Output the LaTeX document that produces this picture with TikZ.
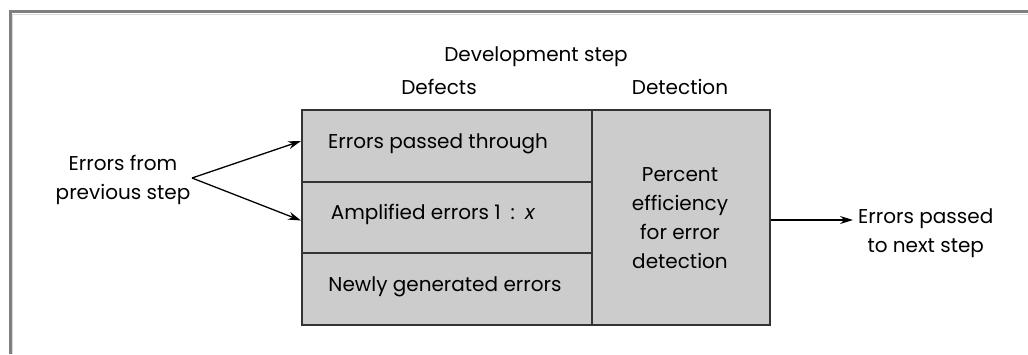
\documentclass[tikz,border=0pt]{standalone}
\usepackage{fontspec}
\setmainfont{Poppins}
\usetikzlibrary{arrows.meta}
\definecolor{cellgray}{HTML}{CCCCCC}
\definecolor{framegray}{HTML}{7F7F7F}
\definecolor{edgegray}{HTML}{333333}
\begin{document}
\begin{tikzpicture}[x=1pt,y=-1pt,
  txt/.style={font=\fontsize{20}{29}\selectfont, inner sep=0pt, align=center},
  cell/.style={draw=edgegray, line width=2pt, fill=cellgray, inner sep=0pt, anchor=north west},
  arr/.style={line width=1.3pt, -{Stealth[length=13pt,width=8pt]}}]
\useasboundingbox (0,0) rectangle (1028,354);
\fill[white] (0,0) rectangle (1028,354);
% frame
\draw[framegray, line width=3pt] (10,354) -- (10,11.5) -- (1028,11.5);
\draw[gray!30, line width=1pt] (12.5,354) -- (12.5,14) -- (1028,14);
% cells
\node[cell, minimum width=290pt, minimum height=72pt] (c1) at (301,109) {};
\node[cell, minimum width=290pt, minimum height=71pt] (c2) at (301,181) {};
\node[cell, minimum width=290pt, minimum height=72pt] (c3) at (301,252) {};
\node[cell, minimum width=178pt, minimum height=215pt] (det) at (591,109) {};
% texts
\node[txt] (t1) at (438,144) {Errors passed through};
\node[txt] (t2) at (433,214) {Amplified errors 1\enspace:\enspace\textit{x}};
\node[txt] (t3) at (445,287) {Newly generated errors};
\node[txt] (t4) at (680,218) {Percent\\efficiency\\for error\\detection};
\node[txt] (hdr) at (536,57) {Development step};
\node[txt] (def) at (439,87) {Defects};
\node[txt] (dtn) at (680,87) {Detection};
\node[txt] (in) at (123,180) {Errors from\\previous step};
\node[txt, anchor=west] (out) at (858,233) {Errors passed\\to next step};
% connectors
\coordinate (src) at (192,178);
\draw[arr] (src) -- ([yshift=5pt]c1.west);
\draw[arr] (src) -- ([yshift=-3pt]c2.west);
\draw[arr] (det.east |- 0,220) -- ([xshift=-5pt]out.west |- 0,220);
\end{tikzpicture}
\end{document}
